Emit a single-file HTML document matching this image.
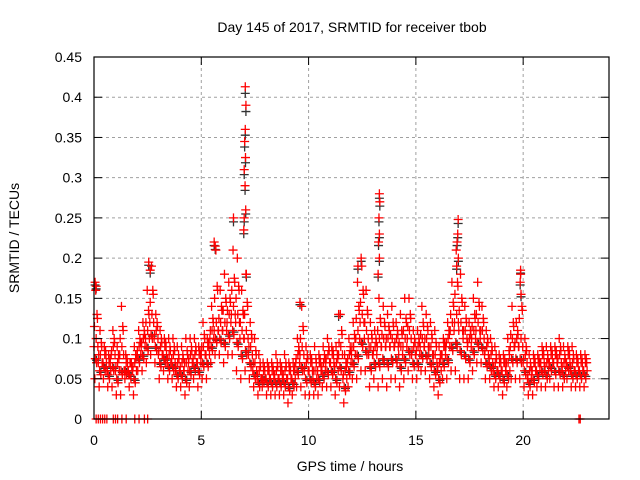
<!DOCTYPE html>
<html><head><meta charset="utf-8"><style>
body{margin:0;background:#fff;}
svg{display:block;font-family:"Liberation Sans",sans-serif;}
</style></head><body>
<svg id="chart" width="640" height="480">
<rect width="640" height="480" fill="#fff"/>
<text x="352" y="32" font-size="14" text-anchor="middle">Day 145 of 2017, SRMTID for receiver tbob</text>
<text x="19" y="238" font-size="14" text-anchor="middle" transform="rotate(-90 19 238)">SRMTID / TECUs</text>
<text x="350" y="471" font-size="14" text-anchor="middle">GPS time / hours</text>
<g id="grid"></g><g id="black"></g><g id="red"></g><g id="axes"></g>
</svg>
<script>
const times=[0,0.2,0.4,0.6,0.8,1.0,1.2,1.4,1.6,1.8,2.0,2.2,2.4,2.6,2.8,3.0,3.2,3.4,3.6,3.8,4.0,4.2,4.4,4.6,4.8,5.0,5.2,5.4,5.6,5.8,6.0,6.2,6.4,6.6,6.8,7.0,7.2,7.4,7.6,7.8,8.0,8.2,8.4,8.6,8.8,9.0,9.2,9.4,9.6,9.8,10.0,10.2,10.4,10.6,10.8,11.0,11.2,11.4,11.6,11.8,12.0,12.2,12.4,12.6,12.8,13.0,13.2,13.4,13.6,13.8,14.0,14.2,14.4,14.6,14.8,15.0,15.2,15.4,15.6,15.8,16.0,16.2,16.4,16.6,16.8,17.0,17.2,17.4,17.6,17.8,18.0,18.2,18.4,18.6,18.8,19.0,19.2,19.4,19.6,19.8,20.0,20.2,20.4,20.6,20.8,21.0,21.2,21.4,21.6,21.8,22.0,22.2,22.4,22.6,22.8];
const loVals=[.05,.04,.05,.04,.04,.03,.03,.05,.04,.03,.06,.06,.07,.08,.07,.05,.06,.05,.05,.04,.04,.03,.04,.05,.04,.05,.05,.07,.08,.08,.07,.08,.08,.06,.05,.06,.05,.04,.03,.04,.03,.03,.03,.03,.03,.02,.03,.04,.04,.03,.03,.03,.03,.04,.04,.04,.03,.04,.02,.04,.05,.05,.06,.06,.04,.05,.04,.05,.04,.05,.05,.04,.05,.06,.05,.05,.06,.06,.05,.04,.03,.05,.05,.06,.06,.05,.05,.05,.06,.07,.07,.05,.05,.04,.04,.03,.04,.05,.05,.05,.04,.03,.03,.04,.04,.04,.05,.04,.04,.04,.05,.04,.04,.04,.04];
const midVals=[.09,.07,.07,.06,.08,.06,.08,.06,.06,.06,.08,.09,.10,.12,.10,.08,.08,.07,.07,.06,.06,.06,.07,.07,.07,.08,.08,.10,.11,.11,.11,.12,.13,.12,.10,.10,.08,.06,.05,.05,.05,.05,.05,.05,.05,.05,.05,.07,.08,.06,.06,.05,.06,.06,.07,.07,.06,.08,.05,.07,.08,.10,.12,.10,.08,.08,.09,.09,.09,.09,.09,.08,.09,.10,.08,.08,.09,.09,.08,.07,.06,.08,.09,.11,.12,.11,.10,.09,.10,.11,.10,.08,.07,.06,.06,.06,.06,.09,.09,.09,.07,.05,.06,.06,.07,.06,.07,.07,.07,.06,.07,.06,.06,.06,.06];
const hiVals=[.16,.11,.09,.08,.11,.09,.14,.08,.07,.09,.11,.12,.16,.19,.13,.11,.10,.10,.10,.09,.09,.10,.10,.10,.09,.12,.10,.14,.21,.16,.18,.17,.21,.20,.16,.18,.12,.10,.08,.07,.07,.07,.08,.07,.08,.07,.07,.10,.14,.09,.08,.09,.08,.09,.10,.09,.09,.13,.08,.10,.12,.17,.19,.16,.12,.11,.15,.14,.13,.14,.12,.13,.15,.15,.11,.11,.14,.13,.12,.11,.09,.10,.12,.17,.21,.18,.14,.12,.15,.17,.14,.11,.10,.09,.08,.08,.10,.14,.12,.18,.10,.08,.08,.08,.09,.09,.09,.09,.10,.09,.09,.09,.08,.08,.08];
const spikeT=[7.05,7.08,7.05,7.02,7.06,7.0,7.04,7.07,7.0,6.98,7.1,13.3,13.32,13.28,13.3,13.26,13.3,13.24,16.97,16.95,16.92,16.98,16.9,19.88,19.86,19.9,0.05,0.1,2.55,2.62,5.6,5.65,6.5,12.3,12.45,9.6,11.4];
const spikeV=[0.413,0.39,0.36,0.345,0.325,0.31,0.29,0.26,0.25,0.235,0.18,0.28,0.27,0.25,0.23,0.22,0.2,0.18,0.248,0.23,0.22,0.2,0.19,0.185,0.17,0.155,0.17,0.165,0.195,0.185,0.22,0.215,0.25,0.19,0.2,0.145,0.13];
const zeroT=[0.1,0.2,0.3,0.4,0.5,0.6,0.9,1.0,1.1,1.3,1.5,1.9,2.1,2.35,2.5,22.6,22.66];
const yTicks=[0,0.05,0.1,0.15,0.2,0.25,0.3,0.35,0.4,0.45];
const yTickLabels=["0","0.05","0.1","0.15","0.2","0.25","0.3","0.35","0.4","0.45"];
const xTicks=[0,5,10,15,20];
const X0=94,X1=609,Y0=419,Y1=57;
const xs=h=>X0+(h/24)*(X1-X0);
const ys=v=>Y0-(v/0.45)*(Y0-Y1);
const NS="http://www.w3.org/2000/svg";
function mk(tag,attrs,parent){const e=document.createElementNS(NS,tag);for(const k in attrs)e.setAttribute(k,attrs[k]);parent.appendChild(e);return e;}
const grid=document.getElementById('grid'),axes=document.getElementById('axes'),red=document.getElementById('red'),black=document.getElementById('black'),svg=document.getElementById('chart');
yTicks.forEach((v,i)=>{const y=ys(v);
 if(i>0&&i<yTicks.length-1){const g=mk('line',{x1:X0,x2:X1,y1:y,y2:y,stroke:'#a0a0a0','stroke-dasharray':'3,3'},grid);}
 mk('line',{x1:X0,x2:X0+8,y1:y,y2:y,stroke:'#000'},axes);mk('line',{x1:X1,x2:X1-8,y1:y,y2:y,stroke:'#000'},axes);
 const t=mk('text',{x:X0-12,y:y+5,'font-size':14,'text-anchor':'end'},svg);t.textContent=yTickLabels[i];
 
 
});
xTicks.forEach(h=>{const x=xs(h);
 if(h>0){const g=mk('line',{x1:x,x2:x,y1:Y0,y2:Y1,stroke:'#a0a0a0','stroke-dasharray':'3,3'},grid);}
 mk('line',{x1:x,x2:x,y1:Y0,y2:Y0-8,stroke:'#000'},axes);mk('line',{x1:x,x2:x,y1:Y1,y2:Y1+8,stroke:'#000'},axes);
 const t=mk('text',{x:x,y:Y0+26,'font-size':14,'text-anchor':'middle'},svg);t.textContent=String(h);
 
 
});
const frame=mk('rect',{x:X0,y:Y1,width:X1-X0,height:Y0-Y1,fill:'none',stroke:'#000','stroke-width':1.2},axes);


function plus(h,v,col,parent){const x=xs(h),y=ys(v);
 const p=mk('path',{d:`M${x-4.5},${y}H${x+4.5}M${x},${y-4.5}V${y+4.5}`,stroke:col,'stroke-width':1.3,fill:'none'},parent);
 
 
}
times.forEach((t,i)=>{const lo=loVals[i],m=midVals[i],hi=hiVals[i];
 plus(t+0.12,(lo+m)/2+0.003,'#333',black);
 plus(t,m,'red',red);plus(t+0.04,lo,'red',red);plus(t+0.08,hi,'red',red);
 plus(t+0.12,(lo+m)/2,'red',red);plus(t+0.16,(m+hi)/2,'red',red);
 plus(t+0.06,(m+lo)/2+0.005,'red',red);plus(t+0.18,m,'red',red);plus(t+0.02,(m+hi)/2-0.01,'red',red);
 plus(t+0.1,m+0.01,'red',red);plus(t+0.14,(m+hi)/2+0.005,'red',red);
});
spikeT.forEach((t,i)=>{plus(t,spikeV[i]*0.98,'#333',black);plus(t,spikeV[i],'red',red);});
zeroT.forEach(t=>plus(t,0,'red',red));
</script>
</body></html>
